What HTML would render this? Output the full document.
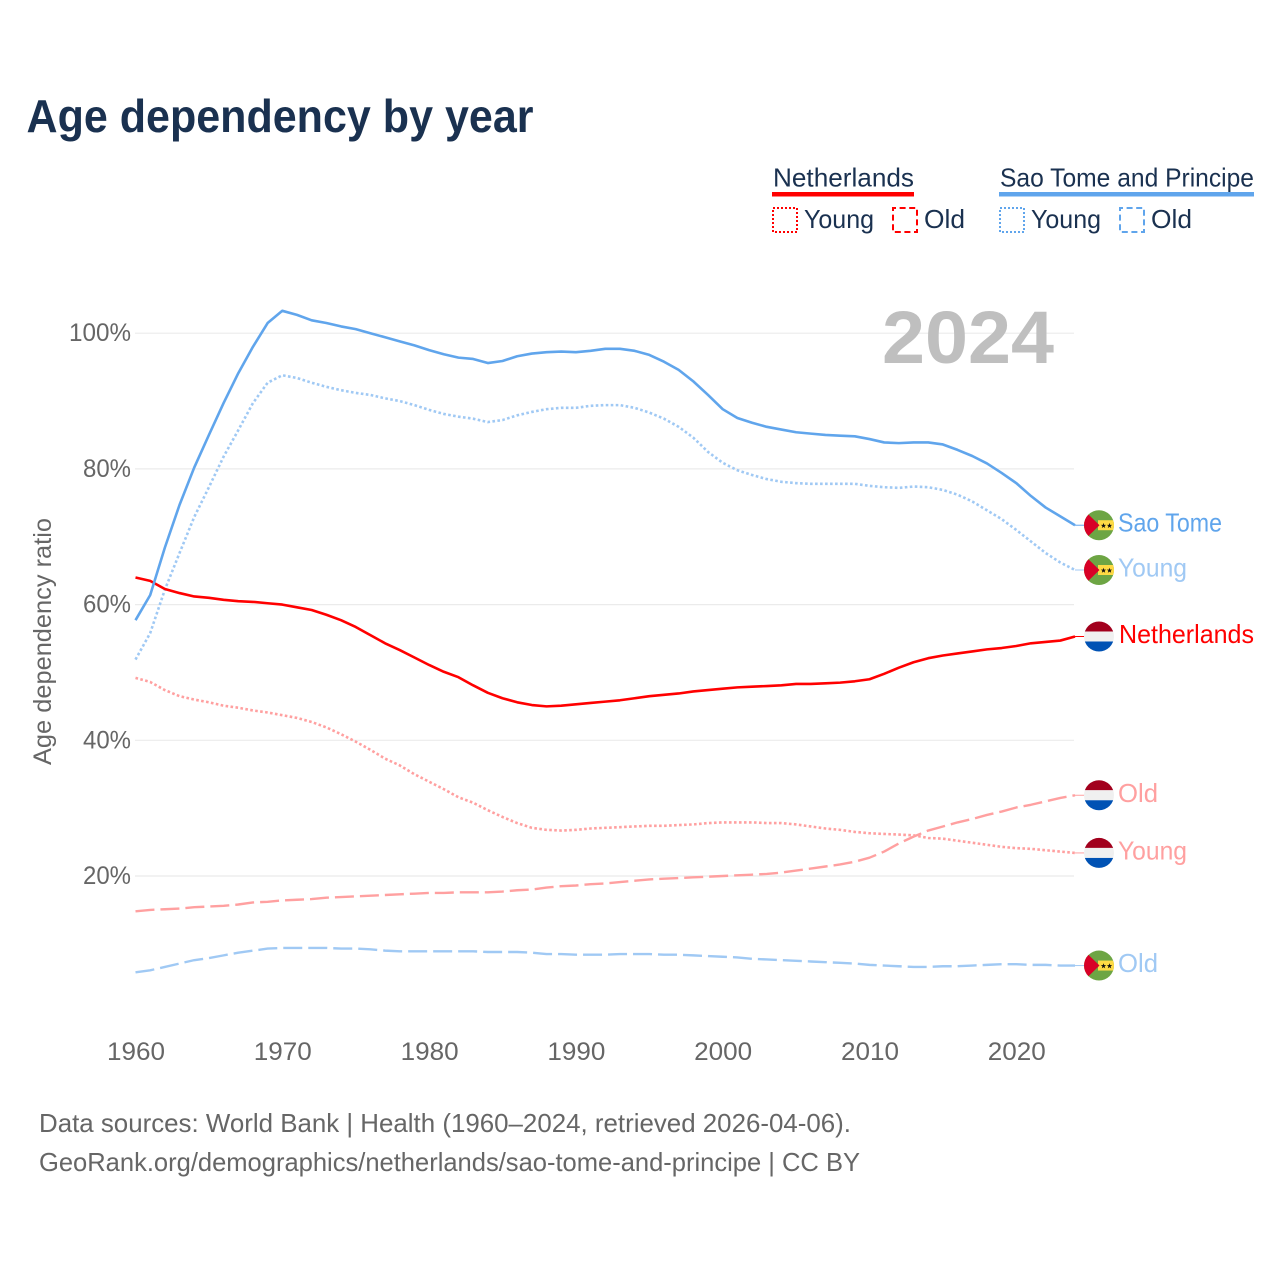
<!DOCTYPE html>
<html lang="en">
<head>
<meta charset="utf-8">
<title>Age dependency by year</title>
<style>
html,body{margin:0;padding:0;background:#fff;width:1280px;height:1280px;overflow:hidden}
svg{display:block;font-family:"Liberation Sans",sans-serif}
</style>
</head>
<body>
<svg id="chart" xmlns="http://www.w3.org/2000/svg" width="1280" height="1280" viewBox="0 0 1280 1280">
  <text x="26.500" y="132" font-size="46" font-weight="700" fill="#1a3150" textLength="507" lengthAdjust="spacingAndGlyphs">Age dependency by year</text>

  <g fill="#1a3150" font-size="26">
    <text x="773" y="186.500" textLength="141" lengthAdjust="spacingAndGlyphs">Netherlands</text>
    <rect x="772" y="192" width="142" height="4.5" fill="#ff0000"/>
    <rect x="773" y="208" width="24" height="24" fill="none" stroke="#ff0000" stroke-width="2" stroke-dasharray="2 2"/>
    <text x="804" y="228" textLength="70" lengthAdjust="spacingAndGlyphs">Young</text>
    <rect x="893" y="208" width="24" height="24" fill="none" stroke="#ff0000" stroke-width="2" stroke-dasharray="6 3.600" stroke-dashoffset="3"/>
    <text x="924" y="228" textLength="41" lengthAdjust="spacingAndGlyphs">Old</text>

    <text x="1000" y="186.500" textLength="254" lengthAdjust="spacingAndGlyphs">Sao Tome and Principe</text>
    <rect x="999" y="192" width="255" height="4.5" fill="#60a5ec"/>
    <rect x="1000" y="208" width="24" height="24" fill="none" stroke="#60a5ec" stroke-width="2" stroke-dasharray="2 2"/>
    <text x="1031" y="228" textLength="70" lengthAdjust="spacingAndGlyphs">Young</text>
    <rect x="1120" y="208" width="24" height="24" fill="none" stroke="#60a5ec" stroke-width="2" stroke-dasharray="6 3.600" stroke-dashoffset="3"/>
    <text x="1151" y="228" textLength="41" lengthAdjust="spacingAndGlyphs">Old</text>
  </g>

  <text transform="translate(51,765) rotate(-90)" font-size="25" fill="#666666" textLength="247" lengthAdjust="spacingAndGlyphs">Age dependency ratio</text>

  <g id="grid"></g>
  <g id="y-ticks"></g>
  <g id="x-ticks"></g>

  <text x="882" y="363" font-size="74" font-weight="700" fill="#bfbfbf" textLength="172" lengthAdjust="spacingAndGlyphs">2024</text>

  <g id="series"></g>
  <g id="end-labels"></g>

  <g font-size="26" fill="#666666">
    <text x="39" y="1132" textLength="812" lengthAdjust="spacingAndGlyphs">Data sources: World Bank | Health (1960–2024, retrieved 2026-04-06).</text>
    <text x="39" y="1171" textLength="821" lengthAdjust="spacingAndGlyphs">GeoRank.org/demographics/netherlands/sao-tome-and-principe | CC BY</text>
  </g>
</svg>

<script>
var years = [1960,1961,1962,1963,1964,1965,1966,1967,1968,1969,1970,1971,1972,1973,1974,1975,1976,1977,1978,1979,1980,1981,1982,1983,1984,1985,1986,1987,1988,1989,1990,1991,1992,1993,1994,1995,1996,1997,1998,1999,2000,2001,2002,2003,2004,2005,2006,2007,2008,2009,2010,2011,2012,2013,2014,2015,2016,2017,2018,2019,2020,2021,2022,2023,2024];
var yTickValues = [20,40,60,80,100];
var xTickValues = [1960,1970,1980,1990,2000,2010,2020];

var netherlandsTotal = [64.0,63.5,62.3,61.7,61.2,61.0,60.7,60.5,60.4,60.2,60.0,59.6,59.2,58.5,57.7,56.7,55.5,54.3,53.3,52.2,51.1,50.1,49.3,48.1,47.0,46.2,45.6,45.2,45.0,45.1,45.3,45.5,45.7,45.9,46.2,46.5,46.7,46.9,47.2,47.4,47.6,47.8,47.9,48.0,48.1,48.3,48.3,48.4,48.5,48.7,49.0,49.8,50.7,51.5,52.1,52.5,52.8,53.1,53.4,53.6,53.9,54.3,54.5,54.7,55.3];
var netherlandsYoung = [49.2,48.6,47.4,46.5,46.0,45.6,45.1,44.8,44.4,44.1,43.7,43.3,42.7,41.9,40.9,39.8,38.6,37.3,36.3,35.0,33.9,32.8,31.6,30.8,29.7,28.7,27.8,27.1,26.8,26.7,26.8,27.0,27.1,27.2,27.3,27.4,27.4,27.5,27.6,27.8,27.9,27.9,27.9,27.8,27.8,27.6,27.3,27.0,26.8,26.5,26.3,26.2,26.1,26.0,25.6,25.5,25.2,24.9,24.6,24.3,24.1,24.0,23.8,23.6,23.4];
var netherlandsOld = [14.8,15.0,15.1,15.2,15.4,15.5,15.6,15.8,16.1,16.2,16.4,16.5,16.6,16.8,16.9,17.0,17.1,17.2,17.3,17.4,17.5,17.5,17.6,17.6,17.6,17.7,17.9,18.0,18.3,18.5,18.6,18.8,18.9,19.1,19.3,19.5,19.6,19.7,19.8,19.9,20.0,20.1,20.2,20.3,20.5,20.8,21.1,21.4,21.7,22.1,22.7,23.6,24.8,25.8,26.7,27.3,27.9,28.4,29.0,29.5,30.1,30.5,31.0,31.5,31.9];
var saoTomeTotal = [57.7,61.4,68.4,74.7,80.2,85.0,89.7,94.1,98.0,101.5,103.3,102.7,101.9,101.5,101.0,100.6,100.0,99.4,98.8,98.2,97.5,96.9,96.4,96.2,95.6,95.9,96.6,97.0,97.2,97.3,97.2,97.4,97.7,97.7,97.4,96.8,95.8,94.6,92.9,90.9,88.8,87.5,86.8,86.2,85.8,85.4,85.2,85.0,84.9,84.8,84.4,83.9,83.8,83.9,83.9,83.6,82.8,81.9,80.8,79.4,77.9,76.0,74.3,73.0,71.7];
var saoTomeYoung = [51.9,55.8,62.2,67.6,72.9,77.3,81.8,85.7,89.7,92.7,93.8,93.4,92.7,92.1,91.6,91.2,90.9,90.4,90.0,89.4,88.7,88.1,87.7,87.4,86.9,87.2,87.9,88.4,88.8,89.0,89.0,89.3,89.4,89.4,89.0,88.3,87.4,86.2,84.6,82.5,80.9,79.8,79.1,78.5,78.1,77.9,77.8,77.8,77.8,77.8,77.5,77.3,77.2,77.4,77.3,76.9,76.2,75.2,73.9,72.6,71.0,69.3,67.6,66.2,65.1];
var saoTomeOld = [5.8,6.1,6.6,7.1,7.6,7.9,8.3,8.7,9.0,9.3,9.4,9.4,9.4,9.4,9.3,9.3,9.2,9.0,8.9,8.9,8.9,8.9,8.9,8.9,8.8,8.8,8.8,8.7,8.5,8.5,8.4,8.4,8.4,8.5,8.5,8.5,8.4,8.4,8.3,8.2,8.1,8.0,7.8,7.7,7.6,7.5,7.4,7.3,7.2,7.1,6.9,6.8,6.7,6.6,6.6,6.7,6.7,6.8,6.9,7.0,7.0,6.9,6.9,6.8,6.8];

var NS = 'http://www.w3.org/2000/svg';
function xScale(year){ return 135.5 + (year - 1960) * 14.68; }
function yScale(v){ return 1011.7 - v * 6.785; }
function make(tag, attrs, parent){
  var el = document.createElementNS(NS, tag);
  for (var k in attrs) el.setAttribute(k, attrs[k]);
  parent.appendChild(el);
  return el;
}

var grid = document.getElementById('grid');
var yTickGroup = document.getElementById('y-ticks');
yTickValues.forEach(function(v){
  var line = make('line', {x1:135, x2:1074, y1:yScale(v), y2:yScale(v), stroke:'#ebebeb', 'stroke-width':1.2}, grid);
  
  
  var label = v + '%';
  var t = make('text', {x:131, y:yScale(v)+8, 'text-anchor':'end', 'font-size':25, fill:'#666666', textLength:14*label.length+6, lengthAdjust:'spacingAndGlyphs'}, yTickGroup);
  t.textContent = label;
  
  
});

var xTickGroup = document.getElementById('x-ticks');
xTickValues.forEach(function(y){
  var t = make('text', {x:xScale(y)+0.5, y:1060, 'text-anchor':'middle', 'font-size':25, fill:'#666666', textLength:58, lengthAdjust:'spacingAndGlyphs'}, xTickGroup);
  t.textContent = y;
  
  
});

var seriesGroup = document.getElementById('series');
var labelsGroup = document.getElementById('end-labels');

function drawSeries(values, name, color, width, dash){
  var d = values.map(function(v,i){
    return (i ? 'L' : 'M') + xScale(years[i]).toFixed(2) + ' ' + yScale(v).toFixed(2);
  }).join(' ');
  var attrs = {d:d, fill:'none', stroke:color, 'stroke-width':width, 'stroke-linejoin':'round'};
  if (dash) attrs['stroke-dasharray'] = dash;
  var p = make('path', attrs, seriesGroup);
  
  
  var last = values[values.length-1];
  var c = make('line', {x1:xScale(years[years.length-1]), x2:1085, y1:yScale(last), y2:yScale(last), stroke:color, 'stroke-width':1}, seriesGroup);
  
  
}

var clipCount = 0;
function drawFlag(kind, name, cy){
  clipCount++;
  var g = make('g', {transform:'translate(1099,' + cy + ')'}, labelsGroup);
  
  
  var clip = make('clipPath', {id:'flag-clip-' + clipCount}, g);
  make('circle', {r:15}, clip);
  var inner = make('g', {'clip-path':'url(#flag-clip-' + clipCount + ')'}, g);
  if (kind === 'nl') {
    make('rect', {x:-16, y:-16, width:32, height:11, fill:'#a2001d'}, inner);
    make('rect', {x:-16, y:-5, width:32, height:10, fill:'#f0f0f0'}, inner);
    make('rect', {x:-16, y:5, width:32, height:11, fill:'#0052b4'}, inner);
  } else {
    make('rect', {x:-16, y:-16, width:32, height:32, fill:'#6da544'}, inner);
    make('rect', {x:-1, y:-5, width:17, height:10, fill:'#ffda44'}, inner);
    make('polygon', {points:'-16,-16 0.500,0 -16,16', fill:'#d80027'}, inner);
    [4.5, 10.5].forEach(function(sx){
      make('polygon', {points:'0,-2.800 0.700,-0.900 2.700,-0.900 1.100,0.300 1.700,2.300 0,1.100 -1.700,2.300 -1.100,0.300 -2.700,-0.900 -0.700,-0.900', transform:'translate(' + sx + ',0.500)', fill:'#111111'}, inner);
    });
  }
}

function drawEndLabel(values, text, name, kind, color, lx, width){
  var cy = yScale(values[values.length-1]);
  drawFlag(kind, name, cy);
  var t = make('text', {x:lx, y:cy+6.5, 'font-size':26, fill:color, textLength:width, lengthAdjust:'spacingAndGlyphs'}, labelsGroup);
  t.textContent = text;
  
  
}

var RED = '#ff0000', BLUE = '#60a5ec', PINK = '#ffa0a0', SKY = '#a0c9f4';
drawSeries(netherlandsOld, 'netherlands-old', PINK, 2.4, '19 6');
drawSeries(netherlandsYoung, 'netherlands-young', PINK, 2.6, '2.6 2.4');
drawSeries(saoTomeOld, 'sao-tome-old', SKY, 2.4, '19 6');
drawSeries(saoTomeYoung, 'sao-tome-young', SKY, 2.6, '2.6 2.4');
drawSeries(netherlandsTotal, 'netherlands-total', RED, 2.6, null);
drawSeries(saoTomeTotal, 'sao-tome-total', BLUE, 2.6, null);

drawEndLabel(saoTomeTotal, 'Sao Tome', 'sao-tome-total', 'st', BLUE, 1118, 104);
drawEndLabel(saoTomeYoung, 'Young', 'sao-tome-young', 'st', SKY, 1118, 69);
drawEndLabel(netherlandsTotal, 'Netherlands', 'netherlands-total', 'nl', RED, 1119, 135);
drawEndLabel(netherlandsOld, 'Old', 'netherlands-old', 'nl', PINK, 1118, 40);
drawEndLabel(netherlandsYoung, 'Young', 'netherlands-young', 'nl', PINK, 1118, 69);
drawEndLabel(saoTomeOld, 'Old', 'sao-tome-old', 'st', SKY, 1118, 40);
</script>
</body>
</html>
